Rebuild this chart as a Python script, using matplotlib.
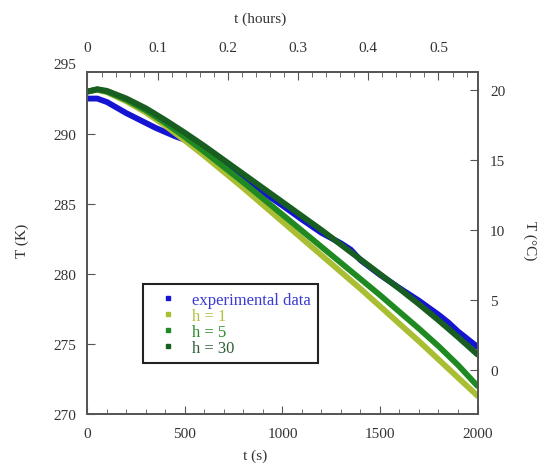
import matplotlib
matplotlib.use('Agg')
import matplotlib.pyplot as plt
from matplotlib.lines import Line2D
from matplotlib.ticker import MultipleLocator

plt.rcParams['font.family'] = ['Liberation Serif', 'DejaVu Serif']
plt.rcParams['font.size'] = 11

# time (s)
t_exp = [0, 50, 100, 150, 200, 250, 300, 350, 400, 450, 500, 600, 700, 800, 900,
         1000, 1100, 1200, 1300, 1350, 1400, 1500, 1600, 1700, 1800, 1850, 1900, 2000]
T_exp = [292.55, 292.55, 292.3, 291.9, 291.5, 291.15, 290.8, 290.45, 290.15, 289.85,
         289.6, 288.75, 287.8, 286.85, 285.85, 284.9, 283.9, 282.95, 282.2, 281.75,
         281.0, 279.95, 279.0, 278.1, 277.1, 276.55, 275.9, 274.8]

t_sim = [0, 50, 100, 200, 300, 400, 500, 600, 700, 800, 900, 1000,
         1100, 1200, 1300, 1400, 1500, 1600, 1700, 1800, 1900, 2000]
T_h1 = [293.05, 293.18, 293.0, 292.35, 291.55, 290.6, 289.55, 288.45, 287.3, 286.15, 284.95,
        283.75, 282.55, 281.35, 280.15, 278.95, 277.7, 276.45, 275.2, 273.9, 272.6, 271.3]
T_h5 = [293.05, 293.2, 293.05, 292.45, 291.7, 290.8, 289.8, 288.75, 287.65, 286.55, 285.4,
        284.25, 283.1, 281.95, 280.8, 279.65, 278.5, 277.3, 276.1, 274.85, 273.5, 272.0]
T_h30 = [293.05, 293.22, 293.1, 292.55, 291.85, 291.0, 290.1, 289.15, 288.15, 287.15, 286.15,
         285.15, 284.15, 283.15, 282.1, 281.05, 280.0, 278.95, 277.85, 276.7, 275.5, 274.25]

labels = ['experimental data', 'h = 1', 'h = 5', 'h = 30']
colors = ['#1414d2', '#a9be32', '#1f8a22', '#175e20']
legend_text_colors = ['#3a3ad6', '#b4c040', '#2a8a2a', '#2f5e36']

K_ticks = [270, 275, 280, 285, 290]
C_ticks = [0, 5, 10, 15, 20]
hour_ticks = [0, 0.1, 0.2, 0.3, 0.4, 0.5]

txt = '#333333'
spine_c = '#555555'

fig = plt.figure(figsize=(5.42, 4.64), dpi=100)
ax = fig.add_axes([0.1614, 0.1056, 0.7196, 0.7371])

ax.plot(t_exp, T_exp, color=colors[0], lw=4.2, solid_capstyle='round', solid_joinstyle='round')
ax.plot(t_sim, T_h1, color=colors[1], lw=4.2, solid_capstyle='round')
ax.plot(t_sim, T_h5, color=colors[2], lw=4.2, solid_capstyle='round')
ax.plot(t_sim, T_h30, color=colors[3], lw=4.2, solid_capstyle='round')

ymin, ymax = 270, 294.45
ax.set_xlim(0, 2000)
ax.set_ylim(ymin, ymax)
ax.set_xticks([0, 500, 1000, 1500, 2000])
ax.xaxis.set_minor_locator(MultipleLocator(100))
ax.set_yticks(K_ticks)
ax.tick_params(axis='both', which='both', direction='in', colors=spine_c, labelcolor=txt,
               labelsize=11)
ax.tick_params(axis='x', which='major', length=6, pad=9, top=False)
ax.tick_params(axis='x', which='minor', length=3.5, top=False)
ax.tick_params(axis='y', which='major', length=6, pad=8, right=False)
ax.text(-0.03, 295, '295', transform=ax.get_yaxis_transform(), ha='right', va='center',
        color=txt, fontsize=11, clip_on=False)
ax.set_xlabel('t (s)', color=txt, fontsize=11)
ax.xaxis.set_label_coords(0.43, -0.1)
ax.set_ylabel('T (K)', color=txt, fontsize=11)
ax.yaxis.set_label_coords(-0.15, 0.51)

# right axis in Celsius
ax_r = ax.twinx()
ax_r.set_ylim(ymin - 273.15, ymax - 273.15)
ax_r.set_yticks(C_ticks)
ax_r.tick_params(axis='y', direction='in', length=6, pad=9, colors=spine_c, labelcolor=txt,
                 labelsize=11)
ax_r.set_ylabel('T (°C)', color=txt, fontsize=11, rotation=270)
ax_r.yaxis.set_label_coords(1.152, 0.51)

# top axis in hours
ax_t = ax.twiny()
ax_t.set_xlim(0, 2000 / 3600)
ax_t.set_xticks(hour_ticks)
ax_t.set_xticklabels(['0', '0.1', '0.2', '0.3', '0.4', '0.5'])
ax_t.xaxis.set_minor_locator(MultipleLocator(0.02))
ax_t.tick_params(axis='x', which='both', direction='in', colors=spine_c, labelcolor=txt,
                 labelsize=11)
ax_t.tick_params(axis='x', which='major', length=6, pad=13)
ax_t.tick_params(axis='x', which='minor', length=3.5)
ax_t.set_xlabel('t (hours)', color=txt, fontsize=11)
ax_t.xaxis.set_label_coords(0.443, 1.146)

for a in (ax, ax_r, ax_t):
    for s in a.spines.values():
        s.set_color(spine_c)
        s.set_linewidth(1.1)

handles = [Line2D([], [], marker='s', ls='none', ms=3, color=c) for c in colors]
leg = ax.legend(handles, labels, loc='upper left', bbox_to_anchor=(0.1425, 0.38),
                borderaxespad=0, fancybox=False, framealpha=1, edgecolor='#222222',
                handlelength=2.1, handletextpad=0.4, labelspacing=0.0, borderpad=0.45,
                fontsize=12)
leg.get_frame().set_linewidth(1.5)
for text, c in zip(leg.get_texts(), legend_text_colors):
    text.set_color(c)

fig.savefig('out.png', dpi=100)
